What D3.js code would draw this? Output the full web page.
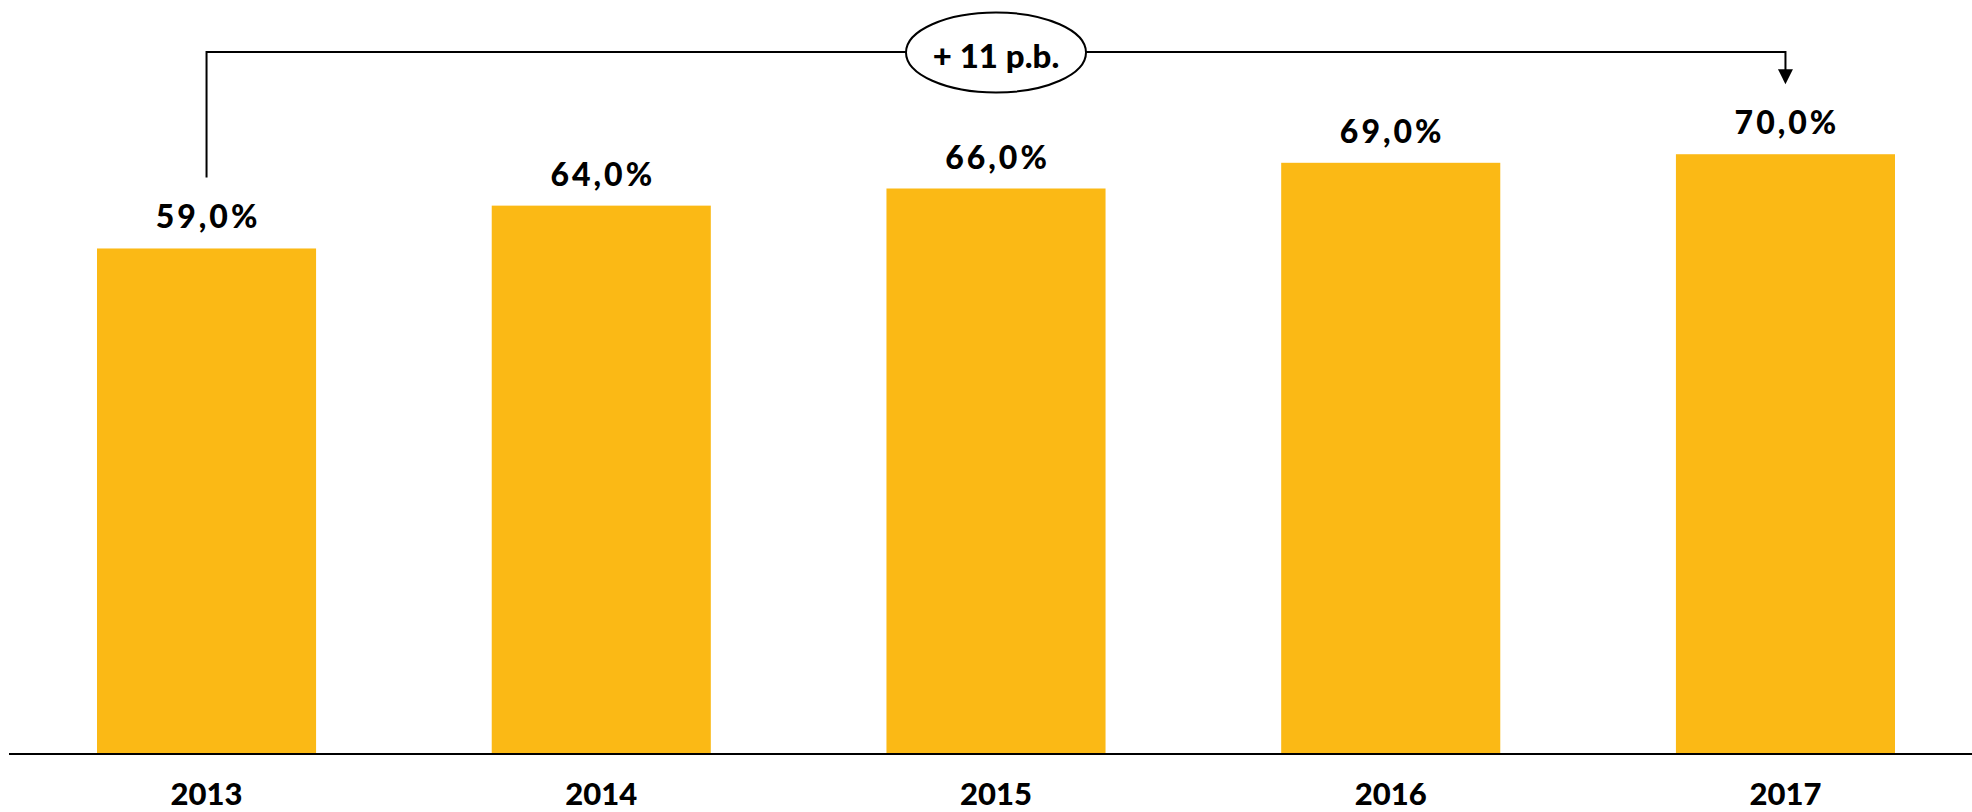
<!DOCTYPE html>
<html>
<head>
<meta charset="utf-8">
<script src="https://cdn.jsdelivr.net/npm/d3@7"></script>
<style>
  html, body { margin: 0; padding: 0; background: #fff; }
  svg { display: block; }
  text { font-family: Lato, "Open Sans", sans-serif; font-weight: 900; fill: #000; }
</style>
</head>
<body>
<div id="chart"></div>
<script>
const years = ['2013', '2014', '2015', '2016', '2017'];
const shares = [59.0, 64.0, 66.0, 69.0, 70.0];
const changeLabel = '+ 11 p.b.';

const width = 1972;
const height = 812;
const baseline = 754;

const fmt = v => v.toFixed(1).replace('.', ',') + '%';

const svg = d3.select('#chart')
  .append('svg')
  .attr('width', width)
  .attr('height', height);

const x = d3.scaleBand()
  .domain(years)
  .range([97, 1895])
  .paddingInner(0.445)
  .paddingOuter(0);

const y = d3.scaleLinear()
  .domain([0, 88])
  .range([baseline, 0]);

// bars
svg.selectAll('rect.bar')
  .data(years)
  .join('rect')
  .attr('class', 'bar')
  .attr('x', d => x(d))
  .attr('y', (d, i) => y(shares[i]))
  .attr('width', x.bandwidth())
  .attr('height', (d, i) => y(0) - y(shares[i]))
  .attr('fill', '#FBB915');

// value labels (letter-spacing adds a trailing gap, so nudge right by half of it)
svg.selectAll('text.val')
  .data(years)
  .join('text')
  .attr('class', 'val')
  .attr('x', d => x(d) + x.bandwidth() / 2 + 1.5)
  .attr('y', (d, i) => y(shares[i]) - 20)
  .attr('text-anchor', 'middle')
  .style('font-size', '32px')
  .style('letter-spacing', '3px')
  .text((d, i) => fmt(shares[i]));

// x axis
const axis = svg.append('g')
  .attr('transform', `translate(0,${baseline})`)
  .call(d3.axisBottom(x).tickSize(0).tickPadding(29));
axis.select('.domain').remove();
axis.selectAll('text')
  .attr('dy', '0.71em')
  .style('font-size', '31px')
  .style('font-family', 'Lato, "Open Sans", sans-serif')
  .style('font-weight', 900)
  .attr('fill', '#000');
svg.append('line')
  .attr('x1', 9).attr('x2', width)
  .attr('y1', baseline).attr('y2', baseline)
  .attr('stroke', '#000')
  .attr('stroke-width', 2);

// change annotation: bracket from first to last bar
const first = years[0], last = years[years.length - 1];
const xa = x(first) + x.bandwidth() / 2;
const xb = x(last) + x.bandwidth() / 2;
const yTop = 52;
const yStart = y(shares[0]) - 71;
const yTip = y(shares[shares.length - 1]) - 70;

svg.append('path')
  .attr('d', `M${xa},${yStart}V${yTop}H${xb}V${yTip - 14}`)
  .attr('fill', 'none')
  .attr('stroke', '#000')
  .attr('stroke-width', 2);

svg.append('path')
  .attr('d', `M${xb - 7.5},${yTip - 15}L${xb + 7.5},${yTip - 15}L${xb},${yTip}Z`)
  .attr('fill', '#000');

const cx = x(years[2]) + x.bandwidth() / 2;
svg.append('ellipse')
  .attr('cx', cx)
  .attr('cy', yTop + 0.5)
  .attr('rx', 90)
  .attr('ry', 40)
  .attr('fill', '#fff')
  .attr('stroke', '#000')
  .attr('stroke-width', 2);

svg.append('text')
  .attr('x', cx)
  .attr('y', 68)
  .attr('text-anchor', 'middle')
  .style('font-size', '33px')
  .text(changeLabel);
</script>
</body>
</html>
